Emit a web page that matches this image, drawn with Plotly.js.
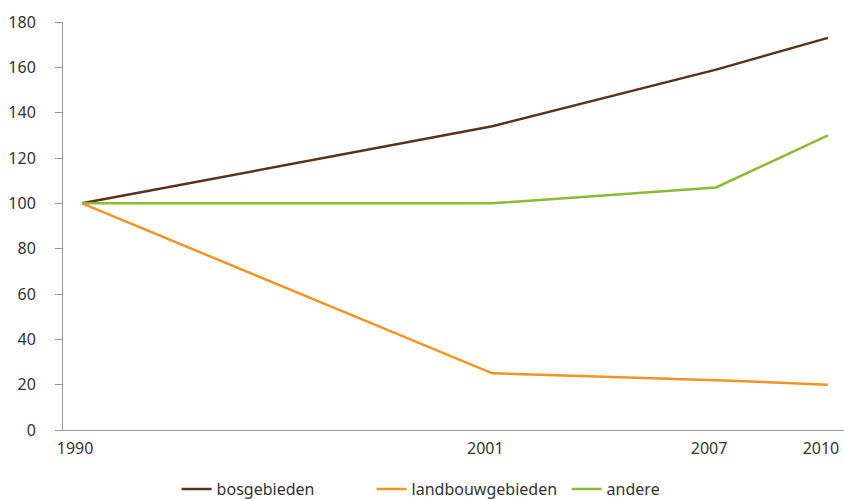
<!DOCTYPE html>
<html>
<head>
<meta charset="utf-8">
<script src="https://cdn.plot.ly/plotly-3.0.1.min.js"></script>
<style>html,body{margin:0;padding:0;background:#fff;}#chart{width:844px;height:499px;}</style>
</head>
<body>
<div id="chart"></div>
<script>
const years = [1990, 2001, 2007, 2010];
const bosgebieden = [100, 134, 159, 173];
const landbouwgebieden = [100, 25, 22, 20];
const andere = [100, 100, 107, 130];
const seriesNames = ["bosgebieden", "landbouwgebieden", "andere"];
const colors = ["#5a321c", "#f39325", "#8cbb33"];
const yTicks = [0, 20, 40, 60, 80, 100, 120, 140, 160, 180];

const data = [bosgebieden, landbouwgebieden, andere].map((v, i) => ({
  x: years, y: v, type: "scatter", mode: "lines", name: seriesNames[i],
  line: {color: colors[i], width: 2.5}
}));

const layout = {
  width: 844, height: 499,
  margin: {l: 63, r: 0, t: 22, b: 69, autoexpand: false},
  paper_bgcolor: "#fff", plot_bgcolor: "#fff",
  font: {family: "Noto Sans, sans-serif", size: 16, color: "#333"},
  showlegend: true,
  legend: {orientation: "h", x: 0.52, xanchor: "center", y: -0.145, yanchor: "middle",
           font: {size: 16}, entrywidth: 150},
  xaxis: {
    range: [1989.49, 2010.43], tickvals: years, ticktext: years.map(String),
    showline: true, linecolor: "#999", linewidth: 1, showgrid: false, zeroline: false,
    ticks: "", ticklabelstandoff: 4, ticklabelshift: -7, ticklabeloverflow: "allow", fixedrange: true
  },
  yaxis: {
    range: [0, 180], tickvals: yTicks, showline: true, linecolor: "#999", linewidth: 1,
    showgrid: false, zeroline: false, ticks: "outside", ticklen: 7, tickcolor: "#999",
    ticklabelstandoff: 16, fixedrange: true
  }
};
Plotly.newPlot("chart", data, layout, {displayModeBar: false, staticPlot: true});
</script>
</body>
</html>
